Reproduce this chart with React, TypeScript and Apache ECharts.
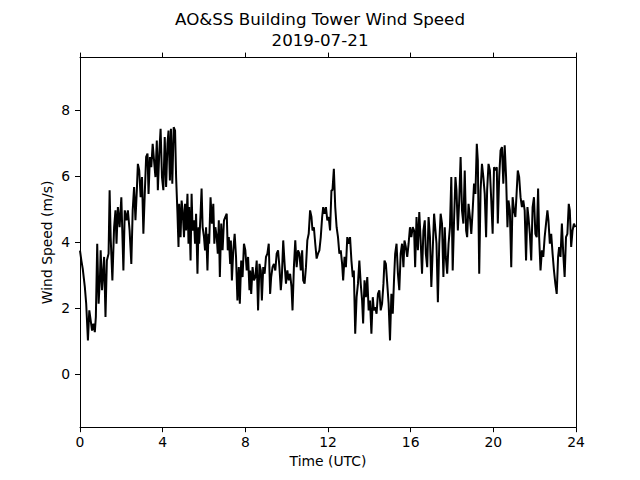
import React, { useEffect, useRef } from "react";
import * as echarts from "echarts";

const TITLE = "AO&SS Building Tower Wind Speed\n2019-07-21";
const X_LABEL = "Time (UTC)";
const Y_LABEL = "Wind Speed (m/s)";
const X_TICKS = [0, 4, 8, 12, 16, 20, 24];
const Y_TICKS = [0, 2, 4, 6, 8];

// minutes after 00:00 UTC
const TIME_MIN = [
  0, 4, 8, 14, 18, 23, 27, 31, 35, 39, 43, 46, 50, 54, 58, 60, 64, 70, 74, 78, 83, 86, 89, 94, 99, 103, 106, 110, 115, 120,
  123, 126, 130, 135, 139, 144, 149, 153, 157, 161, 165, 168, 172, 176, 180, 184, 188, 192, 196, 199, 203, 207, 211, 215,
  219, 223, 226, 230, 234, 238, 242, 246, 250, 254,
  257, 261, 264, 268, 272, 276, 279, 283, 286, 288, 292, 295, 298, 302, 305, 308, 312, 315, 317, 321, 324, 327, 331, 334,
  337, 341, 344, 346, 350, 353, 356, 360, 363, 366, 370, 373, 375, 379, 383, 387, 390, 393, 397, 400, 403, 406, 410, 414,
  418, 422, 426, 429, 432, 436, 438, 441, 445, 449, 453, 457, 461, 464, 468, 472, 476, 480, 484, 488, 492,
  494, 497, 501, 505, 509, 513, 517, 521, 525, 528, 532, 536, 540, 544, 548, 552, 555, 559, 563, 567, 571, 575, 579, 583,
  586, 590, 594, 598, 602, 606, 610, 614, 617, 621, 625, 629, 633, 637, 641, 645, 648, 652, 656, 660, 664, 668, 672, 675,
  679, 683, 687, 691, 695, 699, 703, 706, 710, 714, 718, 722, 726, 730,
  733, 737, 741, 745, 749, 753, 757, 761, 764, 768, 772, 776, 780, 784, 788, 792, 795, 799, 803, 807, 811, 815, 819, 822,
  826, 830, 834, 838, 842, 846, 850, 853, 857, 861, 865, 869, 873, 877, 881, 884, 888, 892, 896, 900, 904, 908, 912, 915,
  919, 923, 927, 931, 935, 939, 942, 946, 950, 954, 958, 962, 966,
  970, 973, 977, 981, 985, 989, 993, 997, 1001, 1004, 1008, 1012, 1016, 1020, 1024, 1028, 1032, 1035, 1039, 1043, 1047,
  1051, 1055, 1059, 1062, 1066, 1070, 1074, 1078, 1082, 1086, 1090, 1093, 1097, 1101, 1105, 1109, 1113, 1117, 1121, 1124,
  1128, 1132, 1136, 1140, 1144, 1148, 1152, 1155, 1159, 1163, 1167, 1171, 1175, 1179, 1182, 1186, 1190, 1194, 1198, 1202, 1206,
  1210, 1213, 1217, 1221, 1225, 1229, 1233, 1237, 1241, 1244, 1248, 1252, 1256, 1260, 1264, 1268, 1271, 1275, 1279, 1283,
  1287, 1291, 1295, 1299, 1302, 1306, 1310, 1314, 1318, 1322, 1326, 1330, 1333, 1337, 1341, 1345, 1349, 1353, 1357, 1360,
  1364, 1368, 1372, 1376, 1380, 1384, 1388, 1391, 1395, 1399, 1403, 1407, 1411, 1415, 1419, 1422, 1426, 1430, 1434, 1438,
];

// wind speed, m/s
const WIND_SPEED = [
  3.75, 3.45, 3.2, 2.65, 2.14, 1.03, 1.94, 1.64, 1.33, 1.54, 1.28, 1.74, 3.96, 2.14, 2.95, 3.76, 2.55, 3.56, 1.74, 3.45, 3.66,
  5.58, 4.16, 2.85, 4.46, 4.97, 3.96, 5.07, 4.46, 5.37, 4.26, 3.15, 4.97, 4.67, 4.97, 4.36, 3.35, 4.97, 5.68, 4.67, 5.58, 6.38,
  6.18, 5.37, 5.98, 4.26, 5.47, 6.59, 6.69, 5.47, 6.59, 6.28, 6.99, 6.48, 5.98, 7.09, 5.58, 6.69, 7.44, 5.98, 5.58, 7.19, 5.68,
  6.99,
  7.39, 5.88, 7.44, 5.78, 7.49, 7.39, 5.98, 4.87, 3.86, 5.17, 4.16, 5.27, 4.97, 4.16, 5.17, 4.36, 5.47, 3.96, 5.07, 3.45, 5.47,
  4.36, 4.67, 3.96, 4.87, 3.05, 4.46, 3.96, 4.87, 5.63, 4.46, 4.16, 3.76, 4.46, 3.15, 4.26, 3.96, 5.37, 4.57, 5.17, 3.96, 4.46,
  4.16, 3.66, 4.67, 2.95, 4.57, 3.76, 4.67, 4.77, 4.87, 3.76, 4.16, 3.35, 4.06, 2.85, 3.76, 4.26, 3.56, 2.24, 3.25, 2.14, 3.45,
  2.95, 3.96, 3.76, 3.15, 3.56, 2.55,
  3.15, 2.44, 3.25, 2.85, 2.95, 3.45, 1.94, 3.35, 3.15, 2.24, 3.25, 3.05, 3.56, 3.66, 3.96, 2.44, 2.95, 3.25, 3.35, 3.15, 3.66,
  3.76, 3.25, 2.55, 2.95, 4.06, 3.35, 2.75, 3.15, 2.85, 3.05, 2.65, 1.94, 3.25, 4.06, 3.25, 3.76, 3.66, 3.15, 3.76, 2.85, 2.75,
  3.25, 4.06, 4.26, 4.97, 4.77, 4.36, 4.46, 3.96, 3.51, 3.66, 3.76, 4.16, 4.77, 5.07, 4.87, 5.07, 4.67, 4.77, 4.36, 5.58,
  5.58, 6.23, 5.07, 4.46, 4.16, 3.66, 3.76, 3.35, 2.85, 3.56, 3.25, 4.16, 3.96, 4.16, 3.45, 2.95, 3.15, 1.23, 2.34, 2.75, 3.45,
  2.75, 2.24, 1.54, 2.85, 2.34, 2.95, 1.94, 2.24, 1.23, 2.34, 1.94, 2.04, 1.84, 2.44, 2.55, 1.94, 2.14, 2.75, 3.45, 3.35, 2.75,
  2.14, 1.03, 2.44, 1.84, 2.95, 3.66, 3.96, 3.05, 2.55, 3.66, 3.96, 3.25, 4.06, 3.86, 3.56, 3.96, 4.46, 4.16, 4.46,
  4.36, 3.25, 4.77, 3.76, 4.92, 4.06, 3.05, 4.36, 4.67, 3.66, 3.25, 4.77, 4.16, 2.65, 3.76, 4.87, 4.36, 3.96, 2.19, 3.96, 4.87,
  4.57, 2.95, 4.46, 3.56, 3.05, 3.96, 4.46, 5.98, 3.15, 4.67, 5.98, 5.58, 4.36, 5.27, 6.59, 4.97, 4.57, 6.18, 4.36, 4.16, 5.17,
  4.77, 4.26, 4.97, 5.78, 5.47, 6.99, 6.48, 3.05, 5.58, 6.38, 5.98, 5.47, 4.16, 5.58, 6.38, 6.18, 5.27, 4.26, 6.28, 6.18,
  6.28, 4.57, 5.98, 6.79, 6.89, 5.78, 6.94, 5.98, 4.46, 5.27, 4.97, 3.25, 5.37, 4.97, 4.77, 5.58, 6.18, 5.98, 5.37, 5.07, 5.27,
  4.97, 3.45, 5.07, 4.77, 4.26, 3.45, 5.07, 5.37, 4.26, 4.16, 5.63, 4.16, 3.15, 3.76, 3.56, 4.16, 4.57, 4.97, 4.67, 3.96, 4.26,
  3.66, 3.15, 2.75, 2.44, 3.56, 3.86, 3.56, 4.57, 3.66, 2.95, 4.16, 4.26, 5.17, 4.97, 3.86, 4.36, 4.57, 4.46,
];

const FONT = "DejaVu Sans";

export default function App() {
  const ref = useRef<HTMLDivElement>(null);

  useEffect(() => {
    if (!ref.current) return;
    const chart = echarts.init(ref.current, null, { renderer: "svg" });
    const n = Math.min(TIME_MIN.length, WIND_SPEED.length);
    const data: [number, number][] = [];
    for (let i = 0; i < n; i++) data.push([TIME_MIN[i] / 60, WIND_SPEED[i]]);

    const axisLine = { show: true, onZero: false, lineStyle: { color: "#000", width: 1 } };
    const tickStyle = { color: "#000", width: 1 };
    const labelStyle = { color: "#000", fontSize: 13.9, fontFamily: FONT };

    chart.setOption({
      animation: false,
      backgroundColor: "#fff",
      title: {
        text: TITLE,
        left: "center",
        top: 4,
        textStyle: {
          color: "#000",
          fontSize: 16.7,
          fontWeight: "normal",
          fontFamily: FONT,
          lineHeight: 20.5,
        },
      },
      grid: { left: 80, right: 64, top: 57.6, bottom: 52.8, containLabel: false },
      xAxis: [
        {
          type: "value",
          position: "bottom",
          min: 0,
          max: 24,
          interval: 4,
          name: X_LABEL,
          nameLocation: "middle",
          nameGap: 27,
          nameMoveOverlap: false,
          nameTextStyle: { color: "#000", fontSize: 13.9, fontFamily: FONT },
          axisLine,
          axisTick: { show: true, inside: false, length: 5, lineStyle: tickStyle, customValues: X_TICKS },
          axisLabel: { ...labelStyle, margin: 8, customValues: X_TICKS },
          splitLine: { show: false },
        },
        {
          type: "value",
          position: "top",
          min: 0,
          max: 24,
          interval: 4,
          axisLine,
          axisTick: { show: true, inside: false, length: 5, lineStyle: tickStyle, customValues: X_TICKS },
          axisLabel: { show: false },
          splitLine: { show: false },
        },
      ],
      yAxis: [
        {
          type: "value",
          position: "left",
          min: -1.6,
          max: 9.6,
          name: Y_LABEL,
          nameLocation: "middle",
          nameGap: 26,
          nameMoveOverlap: false,
          nameRotate: 90,
          nameTextStyle: { color: "#000", fontSize: 13.9, fontFamily: FONT },
          axisLine,
          axisTick: { show: true, inside: false, length: 5, lineStyle: tickStyle, customValues: Y_TICKS },
          axisLabel: { ...labelStyle, margin: 10, customValues: Y_TICKS },
          splitLine: { show: false },
        },
        {
          type: "value",
          position: "right",
          min: -1.6,
          max: 9.6,
          axisLine,
          axisTick: { show: false },
          axisLabel: { show: false },
          splitLine: { show: false },
        },
      ],
      series: [
        {
          type: "line",
          xAxisIndex: 0,
          yAxisIndex: 0,
          data,
          showSymbol: false,
          symbol: "none",
          lineStyle: { color: "#000", width: 2 },
          itemStyle: { color: "#000" },
          clip: true,
        },
      ],
    });
    return () => chart.dispose();
  }, []);

  return (
    <div
      ref={ref}
      style={{ position: "fixed", left: 0, top: 0, width: 640, height: 480, background: "#fff" }}
    />
  );
}
